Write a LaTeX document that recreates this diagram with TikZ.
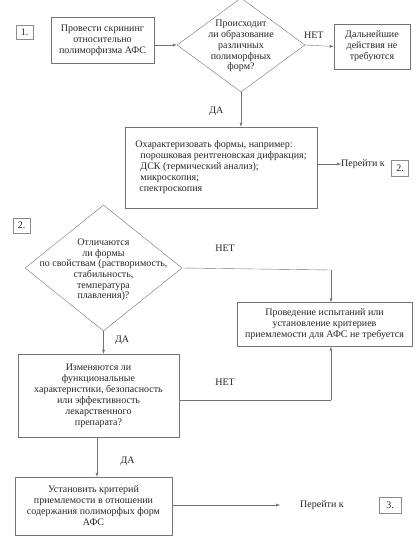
\documentclass[tikz,border=0pt]{standalone}
\usepackage{fontspec}
\setmainfont{Liberation Serif}
\usetikzlibrary{positioning, shapes.geometric}
\usetikzlibrary{arrows, arrows.meta}
\begin{document}
\begin{tikzpicture}[x=1pt, y=-1pt,
    every node/.style={font=\fontsize{10}{11}\selectfont, text=black!85},
    blk/.style={draw=black!55, rectangle, align=center, inner sep=1pt},
    numbox/.style={draw=black!45, rectangle, inner sep=0pt},
    decision/.style={draw=black!55, diamond, inner sep=0pt},
    link/.style={draw=black!55, -{Latex[length=4pt, width=3pt]}},
    plain/.style={draw=black!55}]
  \useasboundingbox (0,0) rectangle (416,544);
  % part 1
  \node[numbox, minimum width=17pt, minimum height=14pt] (n1) at (24.5,32) {1.};
  \node[blk, minimum width=103pt, minimum height=46pt] (b1) at (102.5,40)
    {Провести скрининг\\относительно\\полиморфизма АФС};
  \node[decision, minimum width=128pt, minimum height=94pt] (d1) at (241,45) {};
  \node[align=center, font=\fontsize{10}{10.8}\selectfont] (d1t) at (241,46)
    {Происходит\\ли образование\\различных\\полиморфных\\форм?};
  \node[blk, minimum width=76pt, minimum height=45pt] (b1r) at (372,46.5)
    {Дальнейшие\\действия не\\требуются};
  \node[blk, minimum width=192pt, minimum height=81pt, align=left] (b2) at (221,167.5)
    {Охарактеризовать формы, например:\\
     \hspace{5pt}порошковая рентгеновская дифракция;\\
     \hspace{5pt}ДСК (термический анализ);\\
     \hspace{5pt}микроскопия;\\
     \hspace{4pt}спектроскопия};
  \node[anchor=west, inner sep=0pt] (go2) at (341,164) {Перейти к};
  \node[numbox, minimum width=17pt, minimum height=16pt] (n2a) at (400,168) {2.};
  \draw[link] (b1.east |- d1.west) -- (d1.west);
  \draw[link] (d1.east) -- node[above=3pt, pos=0.3] (l1) {НЕТ} (b1r.west);
  \draw[link] (d1.south) -- node[left=14pt, pos=0.55] (l2) {ДА} (b2.north -| d1.south);
  \draw[link] (b2.east |- go2.west) -- (go2.west);
  % part 2
  \node[numbox, minimum width=17pt, minimum height=15pt] (n2) at (21.5,225.5) {2.};
  \node[decision, minimum width=157pt, minimum height=126pt] (d2) at (103.5,268) {};
  \node[align=center, font=\fontsize{10}{10.6}\selectfont] (d2t) at (103.5,270)
    {Отличаются\\ли формы\\по свойствам (растворимость,\\стабильность,\\температура\\плавления)?};
  \node[blk, minimum width=175pt, minimum height=44pt] (b3) at (324.5,324.5)
    {Проведение испытаний или\\установление критериев\\приемлемости для АФС не требуется};
  \node[blk, minimum width=161pt, minimum height=83pt] (b4) at (98.5,395.5)
    {Изменяются ли\\функциональные\\характеристики, безопасность\\или эффективность\\лекарственного\\препарата?};
  \node[blk, minimum width=157pt, minimum height=58pt] (b5) at (93.5,506)
    {Установить критерий\\приемлемости в отношении\\содержания полиморфых форм\\АФС};
  \node[inner sep=0pt] (go3) at (322,505) {Перейти к};
  \node[numbox, minimum width=22pt, minimum height=16pt] (n3) at (390,505) {3.};
  \coordinate (c1) at (331,270);
  \coordinate (c2) at (331,400);
  \coordinate (e3) at (280,505);
  \node (l3) at (225,248) {НЕТ};
  \node (l4) at (225,382) {НЕТ};
  \draw[plain] (d2.east) -- (c1);
  \draw[link] (c1) -- (c1 |- b3.north);
  \draw[link] (d2.south) -- node[right=8pt, pos=0.4] (l5) {ДА} (b4.north -| d2.south);
  \draw[plain] (b4.east |- c2) -- (c2);
  \draw[link] (c2) -- (c2 |- b3.south);
  \draw[link] (b4.south -| 97,0) -- node[right=20pt, pos=0.6] (l6) {ДА} (b5.north -| 97,0);
  \draw[link] (b5.east |- e3) -- (e3);
\end{tikzpicture}
\end{document}
